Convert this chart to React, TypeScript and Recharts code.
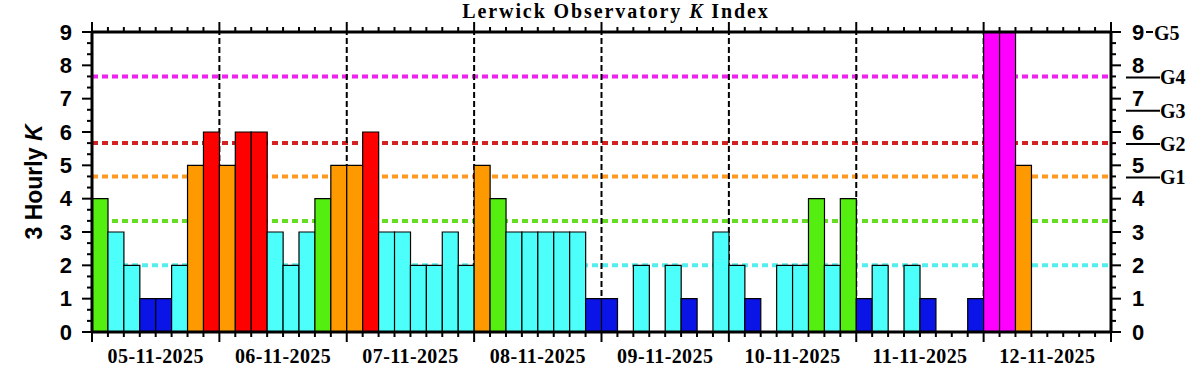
import { BarChart, Bar, Cell, XAxis, YAxis, ReferenceLine } from 'recharts';

// K values per 3-hour slot, 8 per day (null = no data yet)
const days = ['05-11-2025', '06-11-2025', '07-11-2025', '08-11-2025', '09-11-2025', '10-11-2025', '11-11-2025', '12-11-2025'];
const kValues: (number | null)[] = [
  4, 3, 2, 1, 1, 2, 5, 6,
  5, 6, 6, 3, 2, 3, 4, 5,
  5, 6, 3, 3, 2, 2, 3, 2,
  5, 4, 3, 3, 3, 3, 3, 1,
  1, 0, 2, 0, 2, 1, 0, 3,
  2, 1, 0, 2, 2, 4, 2, 4,
  1, 2, 0, 2, 1, 0, 0, 1,
  9, 9, 5, null, null, null, null, null,
];
const yLabels = [0, 1, 2, 3, 4, 5, 6, 7, 8, 9];
// storm thresholds (dotted lines) and G scale labels on the right axis
const thresholds = [
  { y: 23 / 3, color: '#ee22ee' },
  { y: 17 / 3, color: '#d42222' },
  { y: 14 / 3, color: '#ff9922' },
  { y: 10 / 3, color: '#66dd22' },
  { y: 2, color: '#55eeee' },
];
const gLevels: Record<number, string> = { 14: 'G1', 17: 'G2', 20: 'G3', 23: 'G4', 27: 'G5' };
const dayBounds = [8, 16, 24, 32, 40, 48, 56];

const kColor = (k: number) => {
  if (k <= 1) return '#0a14e6';
  if (k <= 3) return '#4dfffa';
  if (k === 4) return '#55ee11';
  if (k === 5) return '#ff9900';
  if (k <= 7) return '#ff0000';
  return '#ff00ff';
};

const data = kValues.map((k, i) => ({ slot: i, k }));
const minorY = Array.from({ length: 28 }, (_, i) => i / 3);

const W = 1203;
const H = 375;
const L = 92;
const R = 1111;
const T = 32;
const B = 332;
const BW = (R - L) / kValues.length;

const sans = '"Liberation Sans", Arial, sans-serif';
const serif = '"Liberation Serif", "Times New Roman", serif';

// left axis tick also draws the right-hand scale (same y)
const YTick = (props: any) => {
  const { y, index } = props;
  const major = index % 3 === 0;
  const g = gLevels[index];
  return (
    <g>
      <line x1={L - (major ? 10 : 5)} x2={L} y1={y} y2={y} stroke="#000" strokeWidth={2} />
      <line x1={R} x2={R + (major ? 10 : 5)} y1={y} y2={y} stroke="#000" strokeWidth={2} />
      {major && (
        <text x={72} y={y} textAnchor="end" dominantBaseline="central" fontFamily={sans} fontWeight="bold" fontSize={22} fill="#000">
          {yLabels[index / 3]}
        </text>
      )}
      {major && (
        <text x={1132} y={y} textAnchor="start" dominantBaseline="central" fontFamily={sans} fontWeight="bold" fontSize={22} fill="#000">
          {yLabels[index / 3]}
        </text>
      )}
      {g && index === 27 && <line x1={1146} x2={1153} y1={y} y2={y} stroke="#000" strokeWidth={2} />}
      {g && index !== 27 && <line x1={1126} x2={1160} y1={y + 1} y2={y + 1} stroke="#000" strokeWidth={2} />}
      {g && (
        <text x={index === 27 ? 1154 : 1160} y={y + 1} dominantBaseline="central" fontFamily={serif} fontWeight="bold" fontSize={20} fill="#000">
          {g}
        </text>
      )}
    </g>
  );
};

// category ticks sit at slot centres; draw marks at slot boundaries
const makeXTick = (top: boolean) => (props: any) => {
  const { x, index } = props;
  const y0 = top ? T : B;
  const dir = top ? -1 : 1;
  const left = x - BW / 2;
  const len = index % 8 === 0 ? 10 : 5;
  return (
    <g>
      <line x1={left} x2={left} y1={y0} y2={y0 + dir * len} stroke="#000" strokeWidth={2} />
      {index === kValues.length - 1 && (
        <line x1={x + BW / 2} x2={x + BW / 2} y1={y0} y2={y0 + dir * 10} stroke="#000" strokeWidth={2} />
      )}
      {!top && index % 8 === 4 && (
        <text x={left} y={356} textAnchor="middle" dominantBaseline="central" fontFamily={serif} fontWeight="bold" fontSize={20} letterSpacing={0.4} fill="#000">
          {days[(index - 4) / 8]}
        </text>
      )}
    </g>
  );
};

export default function App() {
  return (
    <div style={{ position: 'absolute', left: 0, top: 0, width: W, height: H, background: '#fff' }}>
      <BarChart
        width={W}
        height={H}
        data={data}
        barCategoryGap={0}
        barGap={0}
        margin={{ top: T - 20, right: W - R - 40, bottom: H - B - 30, left: L - 40 }}
      >
        <XAxis
          xAxisId="cat"
          dataKey="slot"
          type="category"
          interval={0}
          height={30}
          axisLine={{ stroke: '#000', strokeWidth: 3 }}
          tickLine={false}
          tick={makeXTick(false)}
        />
        <XAxis
          xAxisId="top"
          dataKey="slot"
          type="category"
          orientation="top"
          interval={0}
          height={20}
          axisLine={{ stroke: '#000', strokeWidth: 3 }}
          tickLine={false}
          tick={makeXTick(true)}
        />
        <YAxis
          yAxisId="left"
          type="number"
          domain={[0, 9]}
          allowDataOverflow
          ticks={minorY}
          interval={0}
          width={40}
          axisLine={{ stroke: '#000', strokeWidth: 3 }}
          tickLine={false}
          tick={<YTick />}
        />
        <YAxis
          yAxisId="right"
          orientation="right"
          type="number"
          domain={[0, 9]}
          allowDataOverflow
          width={40}
          axisLine={{ stroke: '#000', strokeWidth: 3 }}
          tickLine={false}
          tick={false}
        />
        {thresholds.map((t) => (
          <ReferenceLine
            key={t.y}
            yAxisId="left"
            xAxisId="cat"
            y={t.y}
            stroke={t.color}
            strokeWidth={4}
            strokeDasharray="6 4"
            zIndex={100}
          />
        ))}
        {dayBounds.map((d) => (
          <ReferenceLine
            key={d}
            yAxisId="left"
            xAxisId="cat"
            x={d}
            position="start"
            stroke="#000"
            strokeWidth={2}
            strokeDasharray="6 3"
            zIndex={100}
          />
        ))}
        <Bar xAxisId="cat" yAxisId="left" dataKey="k" stroke="#000" strokeWidth={1.2} isAnimationActive={false}>
          {data.map((d) => (
            <Cell key={d.slot} fill={kColor(d.k ?? 0)} />
          ))}
        </Bar>
        <text x={616} y={11} textAnchor="middle" dominantBaseline="central" fontFamily={serif} fontWeight="bold" fontSize={20} letterSpacing={1.9} fill="#000">
          Lerwick Observatory <tspan fontStyle="italic">K</tspan> Index
        </text>
        <text
          x={34}
          y={182}
          transform="rotate(-90 34 182)"
          textAnchor="middle"
          dominantBaseline="central"
          fontFamily={sans}
          fontWeight="bold"
          fontSize={23}
          fill="#000"
        >
          3 Hourly <tspan fontStyle="italic">K</tspan>
        </text>
      </BarChart>
    </div>
  );
}
